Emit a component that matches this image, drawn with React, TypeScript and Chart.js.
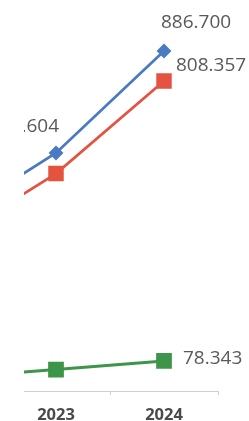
import React, { useEffect, useRef } from "react";
import { Chart, registerables } from "chart.js";

Chart.register(...registerables);

const categories = ["2022", "2023", "2024"];
const seriesBlue = [442, 620.604, 886.7];
const seriesRed = [391, 567, 808.357];
const seriesGreen = [34, 56, 78.343];

const LABEL_SPECS = [
  { ds: 0, i: 1, align: "right", dx: 3, dy: -26 },
  { ds: 0, i: 2, align: "left", dx: -3, dy: -28 },
  { ds: 1, i: 2, align: "left", dx: 12, dy: -15 },
  { ds: 2, i: 2, align: "left", dx: 19, dy: -2 },
];

const labelPlugin = {
  id: "pointLabels",
  afterDatasetsDraw(chart: any) {
    const ctx = chart.ctx;
    ctx.save();
    ctx.font = '19px "Open Sans"';
    ctx.fillStyle = "#595959";
    ctx.textBaseline = "middle";
    LABEL_SPECS.forEach((l) => {
      const el = chart.getDatasetMeta(l.ds).data[l.i];
      const v = chart.data.datasets[l.ds].data[l.i] as number;
      ctx.textAlign = l.align;
      ctx.fillText(v.toFixed(3), el.x + l.dx, el.y + l.dy);
    });
    ctx.restore();
  },
};

export default function App() {
  const ref = useRef<HTMLCanvasElement>(null);
  useEffect(() => {
    const chart = new Chart(ref.current!, {
      type: "line",
      data: {
        labels: categories,
        datasets: [
          {
            data: seriesBlue,
            borderColor: "#4a7ac2",
            backgroundColor: "#4a7ac2",
            borderWidth: 2.75,
            pointStyle: "rectRot",
            pointRadius: 5.5,
            tension: 0,
          },
          {
            data: seriesRed,
            borderColor: "#e4533f",
            backgroundColor: "#e4533f",
            borderWidth: 2.75,
            pointStyle: "rect",
            pointRadius: 9,
            tension: 0,
          },
          {
            data: seriesGreen,
            borderColor: "#3c9548",
            backgroundColor: "#3c9548",
            borderWidth: 3,
            pointStyle: "rect",
            pointRadius: 9,
            tension: 0,
          },
        ],
      },
      options: {
        responsive: false,
        maintainAspectRatio: false,
        animation: false,
        layout: { autoPadding: false, padding: { left: 0, right: 40, top: 7.5, bottom: 0 } },
        plugins: { legend: { display: false }, tooltip: { enabled: false } },
        scales: {
          y: { display: false, min: 0, max: 1000 },
          x: {
            offset: true,
            afterFit: (s: any) => {
              s.height = 30;
              s.paddingLeft = 0;
              s.paddingRight = 0;
            },
            grid: {
              display: true,
              drawOnChartArea: false,
              drawTicks: true,
              tickLength: 4,
              color: "#cfcfcf",
              offset: true,
            },
            border: { display: true, color: "#cfcfcf" },
            ticks: {
              color: "#4a4a4a",
              font: { family: '"Open Sans"', size: 16.5, weight: "bold" },
              padding: 10,
              maxRotation: 0,
            },
          },
        },
      },
      plugins: [labelPlugin],
    });
    return () => chart.destroy();
  }, []);
  return (
    <div
      style={{
        position: "fixed",
        left: 0,
        top: 0,
        width: 249,
        height: 421,
        overflow: "hidden",
        background: "#fff",
      }}
    >
      <div
        style={{
          position: "absolute",
          left: 24,
          top: 0,
          width: 225,
          height: 421,
          overflow: "hidden",
        }}
      >
        <canvas
          ref={ref}
          width={364}
          height={421}
          style={{ position: "absolute", left: -130, top: 0, width: 364, height: 421 }}
        />
      </div>
    </div>
  );
}
